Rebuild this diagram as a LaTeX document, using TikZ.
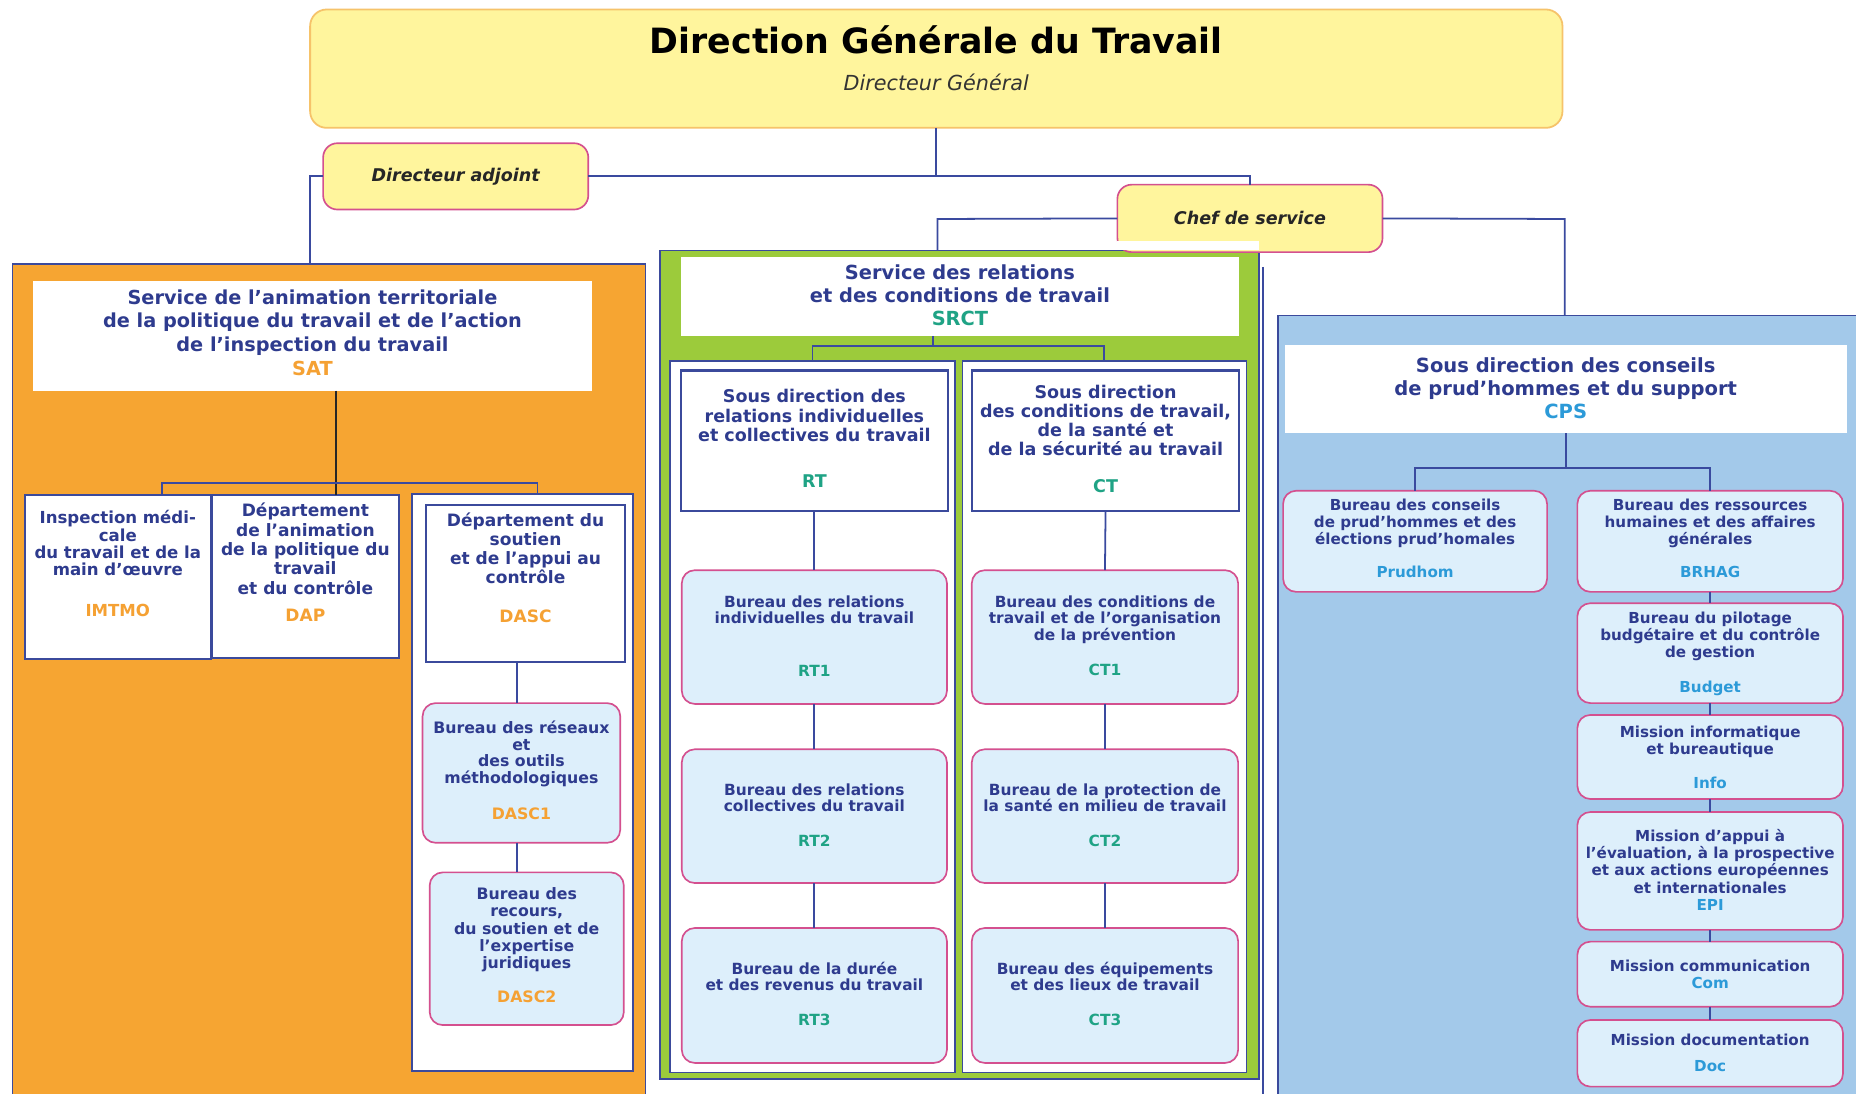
\documentclass[tikz,border=0pt]{standalone}
\usepackage{fontspec}
\setmainfont{DejaVu Sans}
\definecolor{navy}{HTML}{2E3B8E}
\definecolor{linec}{HTML}{3A4A9F}
\definecolor{bordc}{HTML}{3B4A9C}
\definecolor{pinkc}{HTML}{D4508F}
\definecolor{lightc}{HTML}{DDEFFB}
\definecolor{yellowc}{HTML}{FFF59D}
\definecolor{dgtbord}{HTML}{F6C36A}
\definecolor{orangec}{HTML}{F6A532}
\definecolor{greenc}{HTML}{9CCB3B}
\definecolor{bluec}{HTML}{A3C9EA}
\definecolor{orangetxt}{HTML}{F5A133}
\definecolor{tealtxt}{HTML}{1FA385}
\definecolor{cyantxt}{HTML}{2C9AD8}
\newcommand{\bxc}[4]{\parbox[c][#2pt][t]{#1pt}{\centering\vspace*{#3pt}#4\par}}
\newcommand{\cO}[1]{{\color{orangetxt}#1}}
\newcommand{\cT}[1]{{\color{tealtxt}#1}}
\newcommand{\cC}[1]{{\color{cyantxt}#1}}
\tikzset{
  conn/.style={draw=linec, line width=1.5pt},
  plainbox/.style={inner sep=0pt, outer sep=0pt, text=navy},
  wbox/.style={plainbox, draw=bordc, line width=1.7pt, fill=white},
  hbox/.style={plainbox, fill=white},
  bbox/.style={plainbox, draw=pinkc, line width=1.4pt, fill=lightc, rounded corners=11pt},
  ybox/.style={plainbox, draw=pinkc, line width=1.4pt, fill=yellowc, rounded corners=12pt,
     text=black!85, font=\fontsize{14.8}{16}\selectfont\bfseries\itshape},
  container/.style={plainbox, draw=bordc, line width=1.2pt},
  fhead/.style={font=\fontsize{16.3}{20}\selectfont\bfseries},
  fsub/.style={font=\fontsize{14.8}{16.3}\selectfont\bfseries},
  fdep/.style={font=\fontsize{14.4}{16.3}\selectfont\bfseries},
  fbur/.style={font=\fontsize{13}{13.8}\selectfont\bfseries},
  fcps/.style={font=\fontsize{12.8}{14.5}\selectfont\bfseries}
}
\begin{document}
\begin{tikzpicture}[x=1pt, y=-1pt]
\clip (0,0) rectangle (1568,924);
\fill[white] (0,0) rectangle (1568,924);

% ---------- top level ----------
\node[plainbox, draw=dgtbord, line width=1.5pt, fill=yellowc, rounded corners=14pt, text=black,
      font=\fontsize{17.5}{30}\selectfont\bfseries] (dgt) at (791,58)
  {\bxc{1058}{100}{14}{{\fontsize{29.4}{30}\selectfont Direction Générale du Travail}\\[1pt]{\mdseries\itshape\color{black!80}Directeur Général}}};

% ---------- containers ----------
\node[container, fill=orangec, minimum width=535pt, minimum height=727pt] (orange) at (278,586.5) {};
\node[container, fill=greenc, minimum width=506pt, minimum height=700pt] (srctbox) at (810.5,561.5) {};
\node[container, fill=bluec, minimum width=520.5pt, minimum height=683.5pt] (cpsbox) at (1339.75,608.25) {};
\coordinate (vtop) at (1067,225.5);
\coordinate (vbot) at (1067,930);
\draw[conn, line width=1.1pt] (vtop) -- (vbot);

% ---------- second level ----------
\node[ybox, minimum width=224pt, minimum height=56pt] (da) at (385,149) {Directeur adjoint};
\node[ybox, minimum width=224pt, minimum height=57pt] (chef) at (1056,184.5) {Chef de service};
\fill[white] (944,203.5) rectangle (1063.5,210.8);

% ---------- SAT ----------
\node[hbox, fhead] (sat) at (264,283.5)
  {\bxc{472}{93}{7.6}{Service de l’animation territoriale\\de la politique du travail et de l’action\\de l’inspection du travail\\\cO{SAT}}};
\node[wbox, font=\fontsize{14}{14.5}\selectfont\bfseries] (imtmo) at (99.5,487.5)
  {\bxc{157}{139}{13.4}{Inspection médi-\\cale\\du travail et de la\\main d’œuvre\\[20.5pt]\cO{IMTMO}}};
\node[wbox, fdep] (dap) at (258,487)
  {\bxc{158}{138}{7.2}{Département\\de l’animation\\de la politique du\\travail\\et du contrôle\\[6.5pt]\cO{DAP}}};
\node[wbox, minimum width=187pt, minimum height=488pt] (dascout) at (441.5,661) {};
\node[wbox, font=\fontsize{14.4}{16}\selectfont\bfseries] (dascin) at (444,493)
  {\bxc{168}{132}{6.2}{Département du\\soutien\\et de l’appui au\\contrôle\\[17pt]\cO{DASC}}};
\node[bbox, font=\fontsize{13.3}{14.3}\selectfont\bfseries] (dasc1) at (440.5,653)
  {\bxc{167}{118}{14.7}{Bureau des réseaux\\et\\des outils\\méthodologiques\\[15.5pt]\cO{DASC1}}};
\node[bbox, font=\fontsize{13.3}{14.7}\selectfont\bfseries] (dasc2) at (445,801.5)
  {\bxc{164}{129}{12.7}{Bureau des\\recours,\\du soutien et de\\l’expertise\\juridiques\\[13.5pt]\cO{DASC2}}};

% ---------- SRCT ----------
\node[hbox, font=\fontsize{16.4}{19.5}\selectfont\bfseries] (srcth) at (811,250.5)
  {\bxc{472}{67}{6.5}{Service des relations\\et des conditions de travail\\\cT{SRCT}}};
\node[container, fill=white, line width=1.4pt, minimum width=241pt, minimum height=601pt] (rtcol) at (686.5,605.5) {};
\node[container, fill=white, line width=1.4pt, minimum width=240pt, minimum height=601pt] (ctcol) at (933,605.5) {};
\node[wbox, fsub] (rt) at (688,372.3)
  {\bxc{226}{118.6}{16}{Sous direction des\\relations individuelles\\et collectives du travail\\[23pt]\cT{RT}}};
\node[wbox, fsub] (ct) at (934,372.3)
  {\bxc{226}{118.6}{12}{Sous direction\\des conditions de travail,\\de la santé et\\de la sécurité au travail\\[14.7pt]\cT{CT}}};
\node[bbox, fbur] (rt1) at (688,538.2)
  {\bxc{224}{113}{21.6}{Bureau des relations\\individuelles du travail\\[30.5pt]\cT{RT1}}};
\node[bbox, fbur] (rt2) at (688,689.5)
  {\bxc{224}{113}{29.2}{Bureau des relations\\collectives du travail\\[15.7pt]\cT{RT2}}};
\node[bbox, fbur] (rt3) at (688,841)
  {\bxc{224}{114}{28.7}{Bureau de la durée\\et des revenus du travail\\[16pt]\cT{RT3}}};
\node[bbox, fbur] (ct1) at (933.5,538.2)
  {\bxc{225}{113}{21.6}{Bureau des conditions de\\travail et de l’organisation\\de la prévention\\[15.7pt]\cT{CT1}}};
\node[bbox, fbur] (ct2) at (933.5,689.5)
  {\bxc{225}{113}{29.2}{Bureau de la protection de\\la santé en milieu de travail\\[15.7pt]\cT{CT2}}};
\node[bbox, fbur] (ct3) at (933.5,841)
  {\bxc{225}{114}{28.7}{Bureau des équipements\\et des lieux de travail\\[16pt]\cT{CT3}}};

% ---------- CPS ----------
\node[hbox, font=\fontsize{16.5}{19.75}\selectfont\bfseries] (cpsh) at (1322.75,328.75)
  {\bxc{474.5}{74.5}{10.4}{Sous direction des conseils\\de prud’hommes et du support\\\cC{CPS}}};
\node[bbox, fcps] (prud) at (1195.5,457.3)
  {\bxc{223}{85.4}{6.8}{Bureau des conseils\\de prud'hommes et des\\élections prud'homales\\[13.3pt]\cC{Prudhom}}};
\node[bbox, fcps] (brhag) at (1444.8,457.3)
  {\bxc{224.4}{85.4}{6.8}{Bureau des ressources\\humaines et des affaires\\générales\\[13.3pt]\cC{BRHAG}}};
\node[bbox, fcps] (budget) at (1444.8,551.8)
  {\bxc{224.4}{84.4}{7.2}{Bureau du pilotage\\budgétaire et du contrôle\\de gestion\\[15pt]\cC{Budget}}};
\node[bbox, fcps] (info) at (1444.8,639.5)
  {\bxc{224.4}{71}{9.3}{Mission informatique\\et bureautique\\[14pt]\cC{Info}}};
\node[bbox, fcps] (epi) at (1444.8,735.8)
  {\bxc{224.4}{99.6}{14.8}{Mission d'appui à\\l'évaluation, à la prospective\\et aux actions européennes\\et internationales\\\cC{EPI}}};
\node[bbox, fcps] (com) at (1444.8,823)
  {\bxc{224.4}{55}{15.2}{Mission communication\\\cC{Com}}};
\node[bbox, fcps] (doc) at (1444.8,889.85)
  {\bxc{224.4}{56.3}{12.1}{Mission documentation\\[7pt]\cC{Doc}}};

% ---------- connectors: top ----------
\coordinate (daL) at (262,149);
\coordinate (cL) at (792,185);
\coordinate (cR) at (1322,185);
\draw[conn] (dgt.south) -- (dgt.south |- da.east);
\draw[conn] (orange.north -| daL) -- (daL) -- (da.west);
\draw[conn] (da.east) -- (chef.north |- da.east) -- (chef.north);
\draw[conn] (chef.west) -- (cL) -- (cL |- srctbox.north);
\draw[conn] (chef.east) -- (cR) -- (cR |- cpsbox.north);

% ---------- connectors: SAT ----------
\coordinate (satj) at (284,408);
\coordinate (satL) at (137,408);
\coordinate (satR) at (454,408);
\coordinate (dascx) at (437,0);
\draw[draw=black!85, line width=1.5pt] (sat.south -| satj) -- (satj |- dap.north);
\draw[conn] (satL |- imtmo.north) -- (satL) -- (satR) -- (satR |- dascout.north);
\draw[conn] (dascx |- dascin.south) -- (dascx |- dasc1.north);
\draw[conn] (dascx |- dasc1.south) -- (dascx |- dasc2.north);

% ---------- connectors: SRCT ----------
\coordinate (srj) at (788,292);
\draw[conn] (srj |- srcth.south) -- (srj);
\draw[conn] (rtcol.north) -- (rtcol.north |- srj) -- (ctcol.north |- srj) -- (ctcol.north);
\draw[conn] (rt.south) -- (rt1.north);
\draw[conn] (rt1.south) -- (rt2.north);
\draw[conn] (rt2.south) -- (rt3.north);
\draw[conn] (ct.south) -- (ct1.north);
\draw[conn] (ct1.south) -- (ct2.north);
\draw[conn] (ct2.south) -- (ct3.north);

% ---------- connectors: CPS ----------
\coordinate (cpj) at (1323,395.5);
\draw[conn] (cpsh.south -| cpj) -- (cpj);
\draw[conn] (prud.north) -- (prud.north |- cpj) -- (brhag.north |- cpj) -- (brhag.north);
\draw[conn] (brhag.south) -- (budget.north);
\draw[conn] (budget.south) -- (info.north);
\draw[conn] (info.south) -- (epi.north);
\draw[conn] (epi.south) -- (com.north);
\draw[conn] (com.south) -- (doc.north);
\end{tikzpicture}
\end{document}
